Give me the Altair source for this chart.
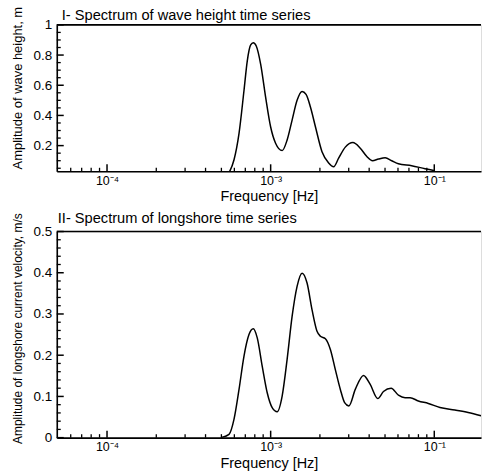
import altair as alt
import pandas as pd

# ---- data ----
freq_top = [5.567e-4, 5.973e-4, 6.408e-4, 6.872e-4, 7.198e-4, 7.548e-4, 7.830e-4, 8.166e-4,
            8.686e-4, 9.316e-4, 9.993e-4, 1.0717e-3, 1.1757e-3, 1.2608e-3, 1.3524e-3, 1.4505e-3,
            1.5564e-3, 1.6459e-3, 1.7502e-3, 1.8777e-3, 2.0595e-3, 2.2621e-3, 2.4273e-3, 2.6026e-3,
            2.8594e-3, 3.1808e-3, 3.5285e-3, 3.8704e-3, 4.1934e-3, 4.5608e-3, 5.0107e-3, 5.4954e-3,
            6.0368e-3, 7.2745e-3, 8.7775e-3, 1.0099e-2]
amp_top = [0.02, 0.106, 0.281, 0.565, 0.762, 0.867, 0.882, 0.86,
           0.74, 0.521, 0.325, 0.216, 0.167, 0.237, 0.369, 0.5,
           0.559, 0.539, 0.456, 0.325, 0.16, 0.085, 0.06, 0.117,
           0.19, 0.22, 0.183, 0.128, 0.1, 0.111, 0.119, 0.1,
           0.08, 0.067, 0.047, 0.034]

freq_bot = [4.958e-4, 5.567e-4, 5.973e-4, 6.408e-4, 6.872e-4, 7.371e-4, 7.830e-4, 8.281e-4,
            8.884e-4, 9.528e-4, 1.0219e-3, 1.0963e-3, 1.1757e-3, 1.2608e-3, 1.3524e-3, 1.4505e-3,
            1.5564e-3, 1.6692e-3, 1.7906e-3, 1.9201e-3, 2.0137e-3, 2.1607e-3, 2.3174e-3, 2.4849e-3,
            2.6665e-3, 2.8318e-3, 3.0083e-3, 3.2896e-3, 3.6953e-3, 4.0596e-3, 4.5158e-3, 4.8921e-3,
            5.45e-3, 6.0368e-3, 6.6313e-3, 7.1154e-3, 7.9912e-3, 9.1943e-3, 1.0832e-2, 1.3366e-2,
            1.6106e-2, 1.9327e-2]
amp_bot = [0.0, 0.008, 0.045, 0.117, 0.198, 0.25, 0.264, 0.242,
           0.173, 0.109, 0.073, 0.063, 0.101, 0.19, 0.294, 0.367,
           0.399, 0.375, 0.31, 0.258, 0.246, 0.24, 0.214, 0.165,
           0.117, 0.085, 0.077, 0.117, 0.151, 0.129, 0.095, 0.112,
           0.12, 0.103, 0.097, 0.097, 0.089, 0.083, 0.073, 0.067,
           0.061, 0.053]

x_major = [1e-4, 1e-3, 1e-2]
x_minor = [6e-5, 7e-5, 8e-5, 9e-5] + [k * 1e-4 for k in range(2, 10)] + [k * 1e-3 for k in range(2, 10)]
x_labels_expr = "datum.value < 0.0005 ? '10⁻⁴' : (datum.value < 0.005 ? '10⁻³' : '10⁻¹')"

y_top_major = [0.2, 0.4, 0.6, 0.8, 1.0]
y_top_minor = [0.05, 0.1, 0.15, 0.25, 0.3, 0.35, 0.45, 0.5, 0.55, 0.65, 0.7, 0.75, 0.85, 0.9, 0.95]
y_bot_major = [0, 0.1, 0.2, 0.3, 0.4, 0.5]
y_bot_minor = [0.02, 0.04, 0.06, 0.08, 0.12, 0.14, 0.16, 0.18, 0.22, 0.24, 0.26, 0.28,
               0.32, 0.34, 0.36, 0.38, 0.42, 0.44, 0.46, 0.48]

X_DOMAIN = [4.93e-5, 0.0193]
W = 426
FONT = "Liberation Sans"


def panel(freq, amp, ydom, ymaj, ymin, H, title, ytitle, ytitle_y, ytitle_size, toff, tdx):
    xs = alt.Scale(type="log", domain=X_DOMAIN)
    ys = alt.Scale(domain=ydom)
    xax = alt.Axis(
        values=x_major, labelExpr=x_labels_expr, ticks=False, title="Frequency [Hz]",
        labelFontSize=12.5, titleFontSize=14.5, labelPadding=3, titlePadding=3,
        grid=False, domainColor="black", domainWidth=1.6, labelFont=FONT, titleFont=FONT,
        titleFontWeight="normal", labelColor="black", titleColor="black")
    yax = alt.Axis(
        values=ymaj, format="~g", ticks=False, title=ytitle, grid=False,
        labelFontSize=13.5, titleFontSize=ytitle_size, labelPadding=5, titlePadding=9,
        titleY=ytitle_y, domainColor="black", domainWidth=1.6, labelFont=FONT, titleFont=FONT,
        titleFontWeight="normal", labelColor="black", titleColor="black")
    X = lambda: alt.X("f:Q", scale=xs, axis=xax)
    Y = lambda: alt.Y("a:Q", scale=ys, axis=yax)

    df = pd.DataFrame({"f": freq, "a": amp})
    line = alt.Chart(df).mark_line(
        interpolate="monotone", color="black", strokeWidth=1.5, clip=True
    ).encode(x=X(), y=Y())
    xt_min = alt.Chart(pd.DataFrame({"f": x_minor})).mark_rule(color="black", strokeWidth=1.3).encode(
        x=X(), y=alt.value(H), y2=alt.value(H - 3.5))
    xt_maj = alt.Chart(pd.DataFrame({"f": x_major})).mark_rule(color="black", strokeWidth=1.5).encode(
        x=X(), y=alt.value(H), y2=alt.value(H - 7))
    yt_min = alt.Chart(pd.DataFrame({"a": ymin})).mark_rule(color="black", strokeWidth=1.3).encode(
        y=Y(), x=alt.value(0), x2=alt.value(4))
    yt_maj = alt.Chart(pd.DataFrame({"a": ymaj})).mark_rule(color="black", strokeWidth=1.5).encode(
        y=Y(), x=alt.value(0), x2=alt.value(7))
    top = alt.Chart(pd.DataFrame({"a": [ydom[1]]})).mark_rule(color="black", strokeWidth=1.6).encode(
        y=Y(), x=alt.value(0), x2=alt.value(W))
    return alt.layer(line, xt_min, xt_maj, yt_min, yt_maj, top).properties(
        width=W, height=H,
        title=alt.TitleParams(title, anchor="start", frame="group", fontSize=14.7, font=FONT,
                              fontWeight="normal", color="black", offset=toff, dx=tdx),
    )


p1 = panel(freq_top, amp_top, [0.03, 1.0], y_top_major, y_top_minor, 147,
           "I- Spectrum of wave height time series", "Amplitude of wave height, m", 63, 13, -16, 5)
p2 = panel(freq_bot, amp_bot, [0.0, 0.5], y_bot_major, y_bot_minor, 207,
           "II- Spectrum of longshore time series", "Amplitude of longshore current velocity, m/s", 97, 12, -13.5, 1)

chart = alt.vconcat(p1, p2, spacing=6.5).properties(
    padding={"left": 10, "top": 4, "right": 0, "bottom": 0}
).configure_view(stroke=None).configure(background="white")

chart.save("out.html", embed_options={"renderer": "svg", "actions": False})
